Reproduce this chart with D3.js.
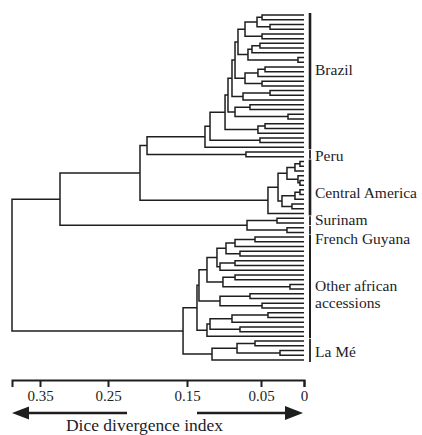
<!DOCTYPE html>
<html><head><meta charset="utf-8">
<script src="https://cdn.jsdelivr.net/npm/d3@7"></script>
<style>body{margin:0;background:#fff}svg{display:block}</style>
</head><body><svg id="c" width="422" height="435"></svg>
<script>
// ---- DATA: clusters as [divergence, upperChild, lowerChild]; L = one accession
const L = null;
const brazil = [0.1257,
  [0.1189,
    [0.0986,
      [0.0946,
        [0.0892,
          [0.0851,
            [0.0811,
              [0.0716, [0.0554, [0.0488, L, L], [0.0395, L, L]], [0.0488, L, L]],
              [0.0676, [0.0622, [0.0514, L, L], L], [0.0070, L, L]]],
            [0.0716, [0.0541, [0.0453, L, L], L], [0.0488, L, L]]],
          [0.0743, [0.0395, L, L], L]],
        [0.0851, [0.0649, L, L], [0.0186, L, L]]],
      [0.0541, [0.0453, L, L], L]],
    [0.0514, L, L]],
  L];
const peru = [0.0703, L, L];
const centralAmerica = [0.0419,
  [0.0302,
    [0.0198, [0.0105, [0.0047, L, L], L], [0.0070, L, [0.0047, L, L]]],
    [0.0256, [0.0105, [0.0047, L, L], L], [0.0140, L, L]]],
  L];
const surinam = [0.0314, L, L];
const frenchGuyana = [0.0198, L, L];
const otherAfrican = [0.1365,
  [0.1338,
    [0.1230,
      [0.1095,
        [0.0973, [0.0851, [0.0581, L, L], L], [0.0784, L, L]],
        [0.1054, [0.0851, L, L], L]],
      [0.1014, [0.0851, L, L], [0.0163, L, L]]],
    [0.1054, [0.0649, L, L], [0.0488, L, L]]],
  [0.1230, [0.1189, [0.0892, [0.0419, L, L], L], [0.0784, L, L]], L]];
const laMe = [0.1162, [0.0824, [0.0581, L, L], [0.0279, L, L]], L];

const groupNames = ["Brazil", "Peru", "Central America", "Surinam", "French Guyana", "Other african accessions", "La Mé"];
const groupTrees = [brazil, peru, centralAmerica, surinam, frenchGuyana, otherAfrican, laMe];
// heights of the joins between groups
const joinBrazilPeru = 0.2006;
const joinWithCentralAmerica = 0.2095;
const joinSurinamGuyana = 0.0689;
const joinUpper = 0.3206;
const joinAfrican = 0.155;
const joinRoot = 0.391;

const tickValues = [0.35, 0.25, 0.15, 0.05, 0];
const tickLabels = ["0.35", "0.25", "0.15", "0.05", "0"];
const axisTitle = "Dice divergence index";

// ---- BUILD
function toNode(a, group) {
  if (a === null) return {h: 0, group};
  return {h: a[0], group, children: [toNode(a[1], group), toNode(a[2], group)]};
}
const G = groupNames.map((g, i) => toNode(groupTrees[i], g));
const J = (h, a, b) => ({h, children: [a, b]});
const rootData = J(joinRoot,
  J(joinUpper,
    J(joinWithCentralAmerica, J(joinBrazilPeru, G[0], G[1]), G[2]),
    J(joinSurinamGuyana, G[3], G[4])),
  J(joinAfrican, G[5], G[6]));

const root = d3.hierarchy(rootData);
const leaves = root.leaves();
const y = d3.scaleLinear().domain([0, leaves.length - 1]).range([15, 360]);
leaves.forEach((l, i) => l.py = y(i));
root.eachAfter(n => { if (n.children) n.py = d3.mean(n.children, c => c.py); });

const x = d3.scaleLinear()
  .domain([0.391, 0.35, 0.25, 0.15, 0.05, 0])
  .range([12, 40, 108, 187, 261, 304]);

const svg = d3.select("#c");
const ink = "#1e1e1e";
const serif = "'Liberation Serif','Times New Roman',serif";

svg.append("g").selectAll("path")
  .data(root.descendants().filter(n => n.children))
  .join("path")
  .attr("fill", "none").attr("stroke", ink).attr("stroke-width", 1.5)
  .attr("d", n => {
    const [a, b] = n.children;
    return `M${x(a.data.h)},${a.py}H${x(n.data.h)}V${b.py}H${x(b.data.h)}`;
  });

// group bars and labels
const labelDy = {"Brazil": -12, "Peru": 1.5, "Central America": 4.5, "Surinam": -1.5, "French Guyana": 8, "Other african accessions": -2, "La Mé": 0.5};
const barW = {"Brazil": 2.6, "Central America": 2.6, "Other african accessions": 2};
groupNames.forEach(g => {
  const ys = leaves.filter(l => l.data.group === g).map(l => l.py);
  const y0 = d3.min(ys) - 2, y1 = d3.max(ys) + 2;
  svg.append("line").attr("x1", 310).attr("x2", 310).attr("y1", y0).attr("y2", y1)
    .attr("stroke", ink).attr("stroke-width", barW[g] || 1.8);
  const cy = (d3.min(ys) + d3.max(ys)) / 2 + labelDy[g];
  const t = svg.append("text").attr("x", 315).attr("y", cy)
    .attr("dominant-baseline", "central")
    .attr("font-family", serif).attr("font-size", 15.5).attr("fill", "#1c1c2a");
  if (g === "Other african accessions") {
    t.append("tspan").attr("x", 315).text("Other african");
    t.append("tspan").attr("x", 315).attr("dy", 17.5).text("accessions");
  } else t.text(g);
});

// axis
const ax = svg.append("g").attr("transform", "translate(0,380)")
  .call(d3.axisBottom(x).tickValues(tickValues).tickFormat((d, i) => tickLabels[i])
    .tickSize(7).tickSizeOuter(7).tickPadding(3));
ax.select(".domain").attr("stroke", ink).attr("stroke-width", 2);
ax.selectAll(".tick line").attr("stroke", ink).attr("stroke-width", 2);
ax.selectAll(".tick text").attr("font-family", serif).attr("font-size", 15).attr("fill", "#222");

// arrows
const ay = 413;
svg.append("line").attr("x1", 127).attr("x2", 26).attr("y1", ay).attr("y2", ay)
  .attr("stroke", ink).attr("stroke-width", 2.5);
svg.append("path").attr("d", `M12,${ay}L29,${ay-6.5}L29,${ay+6.5}Z`).attr("fill", ink);
svg.append("line").attr("x1", 197).attr("x2", 288).attr("y1", ay).attr("y2", ay)
  .attr("stroke", ink).attr("stroke-width", 2.5);
svg.append("path").attr("d", `M303,${ay}L285,${ay-7}L285,${ay+7}Z`).attr("fill", ink);

svg.append("text").attr("x", 144.5).attr("y", 431).attr("text-anchor", "middle")
  .attr("font-family", serif).attr("font-size", 17.5).attr("fill", "#1c1c2a").text(axisTitle);
</script></body></html>
